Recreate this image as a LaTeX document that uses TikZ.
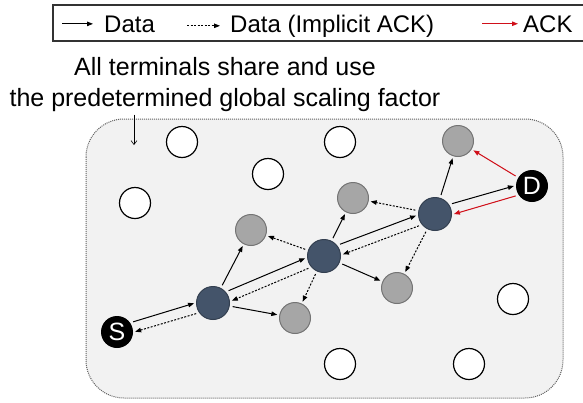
\documentclass[tikz,border=0pt]{standalone}
\usepackage{fontspec}
\setmainfont{Liberation Sans}
\usetikzlibrary{arrows.meta}

\definecolor{relayblue}{HTML}{44546A}
\definecolor{nbgray}{HTML}{A6A6A6}
\definecolor{ackred}{HTML}{D0101A}
\definecolor{areagray}{HTML}{F2F2F2}

\begin{document}
\begin{tikzpicture}[x=1pt, y=-1pt,
    idle/.style={circle, draw=black, fill=white, line width=1.2pt, minimum size=31pt, inner sep=0pt},
    nbr/.style={circle, draw=nbgray!70!black, fill=nbgray, line width=1pt, minimum size=31pt, inner sep=0pt},
    relay/.style={circle, draw=relayblue!75!black, fill=relayblue, line width=1pt, minimum size=33pt, inner sep=0pt},
    term/.style={circle, fill=black, text=white, minimum size=32pt, inner sep=0pt, font=\fontsize{25}{25}\selectfont},
    data/.style={-{Triangle[length=6pt,width=4.5pt]}, line width=1pt, shorten >=2pt, shorten <=3pt},
    imack/.style={data, dash pattern=on 2pt off 1.5pt},
    ack/.style={data, draw=ackred, fill=ackred},
    lbl/.style={font=\fontsize{24}{24}\selectfont, inner sep=0pt, anchor=base west}]
    \useasboundingbox (0,0) rectangle (583,402);

    % Legend
    \draw[gray!40!black, line width=1.2pt] (53,5) rectangle (600,41);
    \node[lbl] (ldata) at (104,32) {Data};
    \node[lbl] (limack) at (230,32) {Data (Implicit ACK)};
    \node[lbl] (lack) at (523,32) {ACK};
    \draw[data, shorten >=0pt, shorten <=0pt] ([xshift=-42pt]ldata.west) -- ([xshift=-11pt]ldata.west);
    \draw[imack, shorten >=0pt, shorten <=0pt] ([xshift=-43pt]limack.west) -- ([xshift=-10pt]limack.west);
    \draw[ack, shorten >=0pt, shorten <=0pt] ([xshift=-41pt]lack.west) -- ([xshift=-5pt]lack.west);

    % Caption
    \node[font=\fontsize{25}{31}\selectfont, align=center, anchor=base] (caption) at (225,106)
        {All terminals share and use\\the predetermined global scaling factor};

    % Network area and pointer
    \draw[areagray!40!black, fill=areagray, line width=1pt, densely dotted, rounded corners=38pt]
        (86,119) rectangle (563,398);
    \coordinate (ptrend) at (134,145);
    \draw[line width=0.6pt, -{Straight Barb[length=4pt,width=6pt]}] (caption.south -| ptrend) -- (ptrend);

    % Idle terminals
    \node[idle] (w1) at (182,142) {};
    \node[idle] (w2) at (268,174) {};
    \node[idle] (w3) at (135,203) {};
    \node[idle] (w4) at (340,142) {};
    \node[idle] (w5) at (513,299) {};
    \node[idle] (w6) at (340,364) {};
    \node[idle] (w7) at (469,364) {};

    % Overhearing neighbours
    \node[nbr] (g1) at (251,230) {};
    \node[nbr] (g2) at (353,198) {};
    \node[nbr] (g3) at (458,141) {};
    \node[nbr] (g4) at (397,288) {};
    \node[nbr] (g5) at (295,318) {};

    % Relays, source and destination
    \node[relay] (r1) at (213,303) {};
    \node[relay] (r2) at (324,256) {};
    \node[relay] (r3) at (435,214) {};
    \node[term] (src) at (117,332) {S};
    \node[term] (dst) at (532,186) {D};

    % Route: data forward, implicit ACK backward
    \draw[data] (src.35) -- (r1.179);
    \draw[imack] (r1.215) -- (src.-1);
    \draw[data] (r1.41) -- (r2.185);
    \draw[imack] (r2.221) -- (r1.5);
    \draw[data] (r2.39) -- (r3.183);
    \draw[imack] (r3.219) -- (r2.3);
    \draw[data] (r3.34) -- (dst.178);
    \draw[ack] (dst.214) -- (r3.-2);

    % Overheard transmissions
    \draw[data] (r1) -- (g1);
    \draw[data] (r1) -- (g5);
    \draw[data] (r2) -- (g2);
    \draw[data] (r2) -- (g4);
    \draw[data] (r3) -- (g3);
    \draw[imack] (r2) -- (g1);
    \draw[imack] (r2) -- (g5);
    \draw[imack] (r3) -- (g2);
    \draw[imack] (r3) -- (g4);
    \draw[ack] (dst) -- (g3);
\end{tikzpicture}
\end{document}
